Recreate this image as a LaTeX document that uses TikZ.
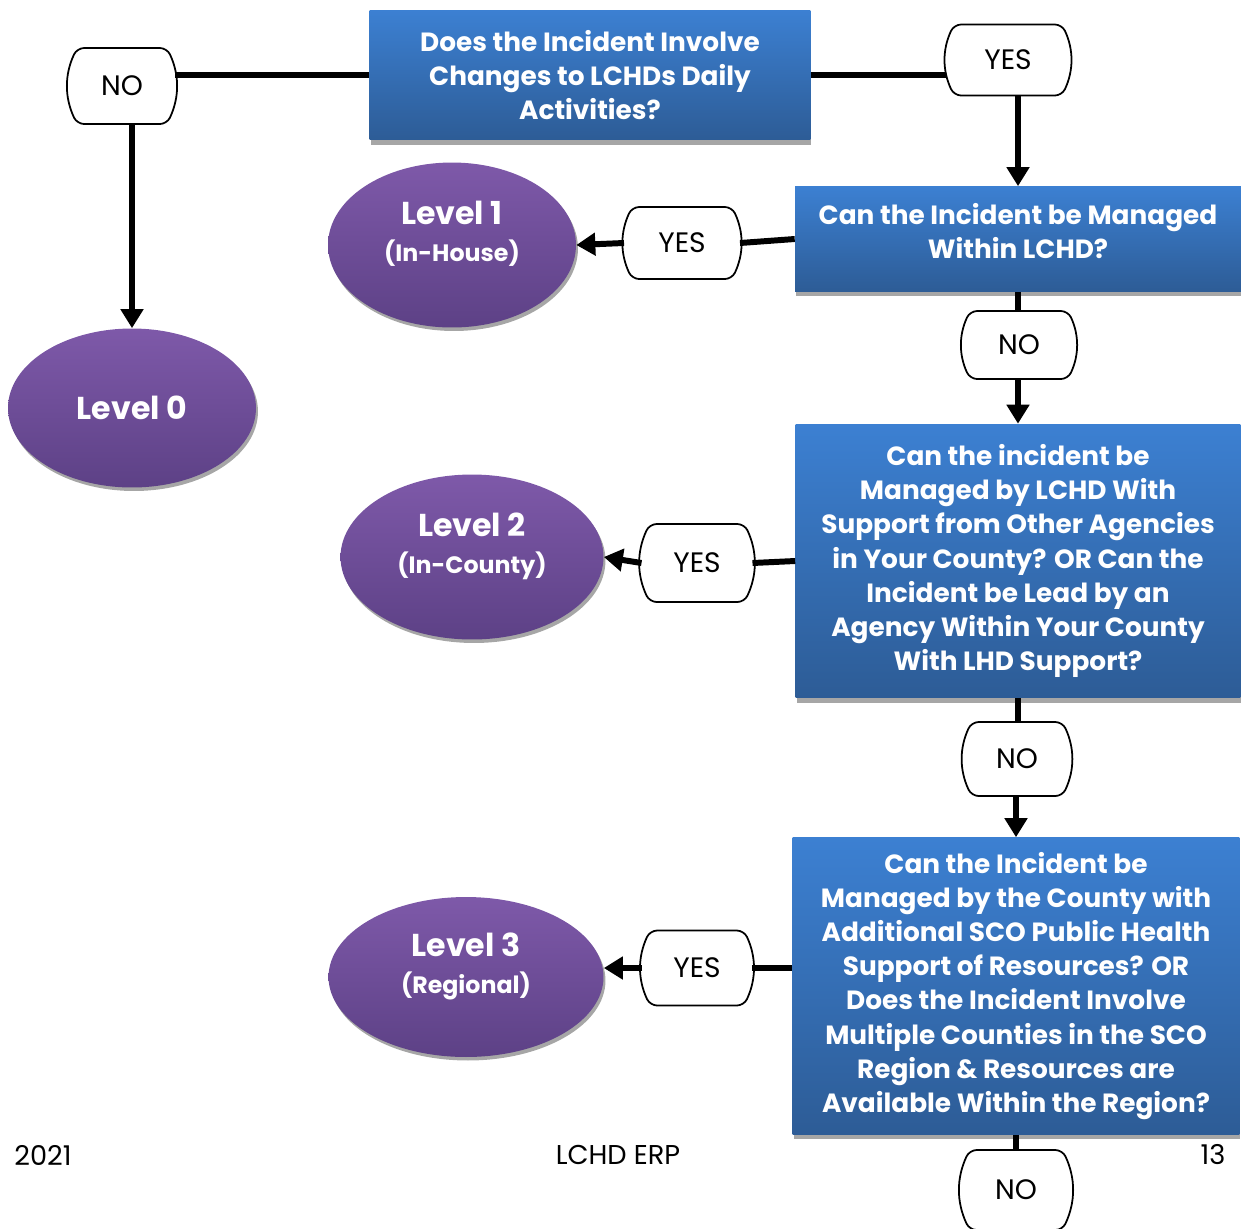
\documentclass[tikz,border=0pt]{standalone}
\usepackage{fontspec}
\setmainfont{Poppins}
\usetikzlibrary{arrows.meta,shapes.geometric,shadows}
\definecolor{boxtop}{HTML}{3C80D2}
\definecolor{boxbot}{HTML}{2D5C96}
\definecolor{lvltop}{HTML}{7E59A9}
\definecolor{lvlbot}{HTML}{5D4186}
\definecolor{shadowgray}{HTML}{A6A6A6}

\begin{document}
\begin{tikzpicture}[x=0.02cm,y=-0.02cm,
    question/.style={rectangle,inner sep=0pt,align=center,text=white,
      top color=boxtop,bottom color=boxbot,
      font=\bfseries\fontsize{15}{19.4}\selectfont,
      drop shadow={shadow xshift=0.02cm,shadow yshift=-0.1cm,fill=shadowgray,opacity=1}},
    level/.style={ellipse,inner sep=0pt,align=center,text=white,
      top color=lvltop,bottom color=lvlbot,
      font=\bfseries\fontsize{18}{21}\selectfont,
      drop shadow={shadow xshift=0.04cm,shadow yshift=-0.07cm,fill=shadowgray,opacity=1}},
    sublevel/.style={text depth=0.55cm},
    answer/.style={rectangle,inner sep=0pt,outer xsep=0.16cm,outer ysep=0pt,
      font=\fontsize{16}{18}\selectfont},
    answer line/.style={line width=1pt,rounded corners=4pt},
    link/.style={line width=3.4pt},
    flow/.style={line width=3.4pt,-{Triangle[length=0.38cm,width=0.44cm]}},
    foot/.style={font=\fontsize{15.5}{17}\selectfont}]
  \useasboundingbox (0,0) rectangle (1241,1228);

  % questions
  \node[question,minimum width=8.82cm,minimum height=2.6cm] (box1) at (590,75)
    {Does the Incident Involve\\Changes to LCHDs Daily\\Activities?};
  \node[question,minimum width=8.92cm,minimum height=2.1cm,text depth=0.34cm] (box2) at (1018,239)
    {Can the Incident be Managed\\Within LCHD?};
  \node[question,minimum width=8.9cm,minimum height=5.48cm] (box3) at (1018,561)
    {Can the incident be\\Managed by LCHD With\\Support from Other Agencies\\in Your County? OR Can the\\Incident be Lead by an\\Agency Within Your County\\With LHD Support?};
  \node[question,minimum width=8.94cm,minimum height=5.94cm] (box4) at (1016,986)
    {Can the Incident be\\Managed by the County with\\Additional SCO Public Health\\Support of Resources? OR\\Does the Incident Involve\\Multiple Counties in the SCO\\Region \& Resources are\\Available Within the Region?};

  % levels
  \node[level,minimum width=4.96cm,minimum height=3.18cm] (lvl0) at (132,408) {Level 0};
  \node[level,sublevel,minimum width=4.96cm,minimum height=3.3cm] (lvl1) at (452,245)
    {Level 1\\{\fontsize{13.5}{17}\selectfont (In-House)}};
  \node[level,sublevel,minimum width=5.26cm,minimum height=3.3cm] (lvl2) at (472,557)
    {Level 2\\{\fontsize{13.5}{17}\selectfont (In-County)}};
  \node[level,sublevel,minimum width=5.5cm,minimum height=3.2cm] (lvl3) at (466,977)
    {Level 3\\{\fontsize{13.5}{17}\selectfont (Regional)}};

  % answers
  \node[answer,minimum width=1.8cm,minimum height=1.52cm] (no0) at (122,86) {NO};
  \node[answer,minimum width=2.16cm,minimum height=1.42cm] (yes0) at (1008,60) {YES};
  \node[answer,minimum width=2.0cm,minimum height=1.44cm] (yes1) at (682,243) {YES};
  \node[answer,minimum width=1.96cm,minimum height=1.36cm] (no1) at (1019,345) {NO};
  \node[answer,minimum width=1.9cm,minimum height=1.56cm] (yes2) at (697,563) {YES};
  \node[answer,minimum width=1.82cm,minimum height=1.48cm] (no2) at (1017,759) {NO};
  \node[answer,minimum width=1.88cm,minimum height=1.5cm] (yes3) at (697,968) {YES};
  \node[answer,minimum width=1.86cm,minimum height=1.6cm] (no3) at (1016,1190) {NO};
  \foreach \n in {no0,yes0,yes1,no1,yes2,no2,yes3,no3}
    \draw[answer line] (\n.north) -- ([xshift=-0.16cm]\n.north east)
      to[bend left=25] ([xshift=-0.16cm]\n.south east) -- ([xshift=0.16cm]\n.south west)
      to[bend left=25] ([xshift=0.16cm]\n.north west) -- cycle;

  % connectors
  \draw[link] (box1.west) -- (box1.west -| no0.east);
  \draw[link] (box1.east) -- (box1.east -| yes0.west);
  \draw[flow] (lvl0.north |- no0.south) -- (lvl0.north);
  \draw[flow] (box2.north |- yes0.south) -- (box2.north);
  \draw[link] (box2.west) -- (yes1.east);
  \draw[flow] (yes1.west) -- (lvl1.east);
  \draw[link] (box2.south) -- (box2.south |- no1.north);
  \draw[flow] (box3.north |- no1.south) -- (box3.north);
  \draw[link] (box3.west) -- (yes2.east);
  \draw[flow] (yes2.west) -- (lvl2.east);
  \draw[link] (box3.south) -- (box3.south |- no2.north);
  \draw[flow] (box4.north |- no2.south) -- (box4.north);
  \draw[link] (yes3.east) -- (yes3.east -| box4.west);
  \draw[flow] (yes3.west) -- (yes3.west -| lvl3.east);
  \draw[link] (box4.south) -- (no3.north);

  % footer
  \node[foot] (year) at (43,1155) {2021};
  \node[foot] (title) at (618,1155) {LCHD ERP};
  \node[foot] (page) at (1213,1155) {13};
\end{tikzpicture}
\end{document}
